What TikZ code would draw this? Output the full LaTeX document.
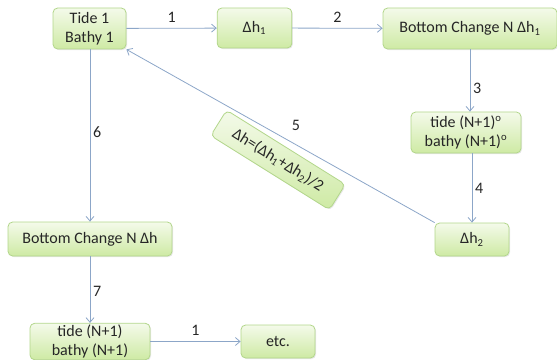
\documentclass[tikz,border=0pt]{standalone}
\usepackage{fontspec}
\setmainfont{Carlito}
\usetikzlibrary{arrows.meta,shadows}

\definecolor{boxtop}{RGB}{244,250,234}
\definecolor{boxbottom}{RGB}{206,234,164}
\definecolor{boxline}{RGB}{178,214,138}
\definecolor{linkblue}{RGB}{140,166,200}

\tikzset{every picture/.style={line width=0.75pt}}
\tikzset{
  stepbox/.style={draw=boxline, line width=0.6pt, rounded corners=3.5pt,
    top color=boxtop, bottom color=boxbottom, align=center, inner sep=1pt,
    font=\fontsize{12}{14.6}\selectfont, text=black!85,
    drop shadow={opacity=0.18, shadow xshift=0.8pt, shadow yshift=-0.8pt}},
  link/.style={draw=linkblue, line width=0.6pt, -{Straight Barb[length=3.5pt,width=6pt]}},
  steplabel/.style={font=\fontsize{12}{14.6}\selectfont, text=black!85, inner sep=1pt}
}

\begin{document}
\begin{tikzpicture}[x=0.75pt,y=0.75pt,yscale=-1,xscale=1]
\useasboundingbox (0,0) rectangle (557,360);

% Boxes
\node [stepbox, minimum width=54.75pt, minimum height=30.75pt] (tide1) at (89.5,28.5) {Tide 1\\Bathy 1};
\node [stepbox, minimum width=56pt, minimum height=30pt] (dh1) at (254.5,28) {Δh\textsubscript{1}};
\node [stepbox, minimum width=130.5pt, minimum height=30.75pt] (bcn1) at (470,28.5) {Bottom Change N Δh\textsubscript{1}};
\node [stepbox, minimum width=82.5pt, minimum height=30.75pt] (tideo) at (466,132.5) {tide (N+1)\textsuperscript{o}\\bathy (N+1)\textsuperscript{o}};
\node [stepbox, minimum width=55.5pt, minimum height=24.75pt] (dh2) at (472,239.5) {Δh\textsubscript{2}};
\node [stepbox, minimum width=123pt, minimum height=25.5pt] (bcn) at (90,239) {Bottom Change N Δh};
\node [stepbox, minimum width=90pt, minimum height=24.75pt] (tiden) at (90,341.5) {tide (N+1)\\bathy (N+1)};
\node [stepbox, minimum width=55.5pt, minimum height=24.75pt] (etc) at (278,341.5) {etc.};
% rotated average box
\node [stepbox, rotate=-32, minimum width=105pt, minimum height=22.5pt] (avg) at (278,160) {Δh=(Δh\textsubscript{1}+Δh\textsubscript{2})/2};

% Connectors
\draw [link] (tide1) -- node [steplabel, above=3pt] {1} (dh1);
\draw [link] (dh1) -- node [steplabel, above=3pt] {2} (bcn1);
\draw [link] (bcn1.south) -- node [steplabel, right=1pt, pos=0.62] {3} (bcn1.south |- tideo.north);
\draw [link] (tideo.south -| dh2.north) -- node [steplabel, right=1pt] {4} (dh2.north);
\draw [link] (dh2.north west) -- node [steplabel, pos=0.45, above=9pt] {5} (tide1.south east);
\draw [link] (tide1.south -| bcn.north) -- node [steplabel, right=1pt, pos=0.48] {6} (bcn.north);
\draw [link] (bcn) -- node [steplabel, right=1pt, pos=0.53] {7} (tiden);
\draw [link] (tiden) -- node [steplabel, above=3pt] {1} (etc);

\end{tikzpicture}
\end{document}
